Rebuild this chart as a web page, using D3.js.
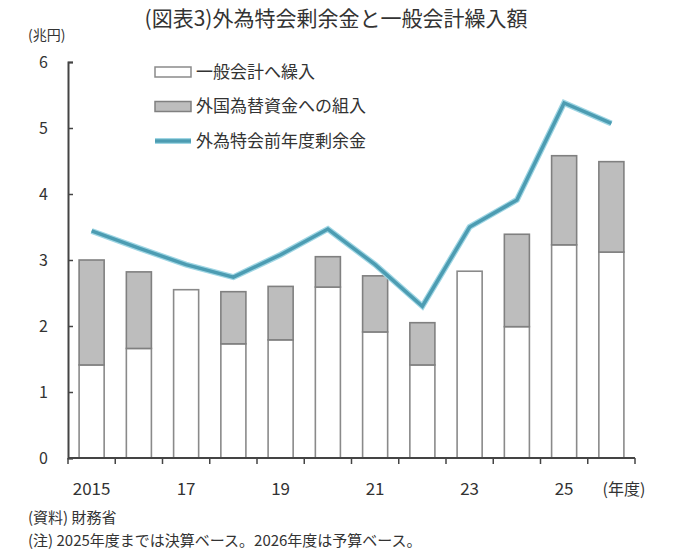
<!DOCTYPE html>
<html>
<head>
<meta charset="utf-8">
<script src="https://cdn.jsdelivr.net/npm/d3@7"></script>
<style>
  body { margin: 0; background: #fff; }
  text { font-family: "Noto Sans CJK JP", "Noto Sans", sans-serif; fill: #333; }
</style>
</head>
<body>
<div id="chart"></div>
<script>
// 年度
const years = [2015, 2016, 2017, 2018, 2019, 2020, 2021, 2022, 2023, 2024, 2025, 2026];
const yearLabels = ['2015', '', '17', '', '19', '', '21', '', '23', '', '25', ''];
// 一般会計へ繰入 (兆円)
const toGeneral = [1.41, 1.66, 2.55, 1.73, 1.79, 2.59, 1.91, 1.41, 2.83, 1.99, 3.23, 3.12];
// 外国為替資金への組入 (兆円)
const toReserve = [1.59, 1.16, 0.00, 0.79, 0.81, 0.46, 0.85, 0.64, 0.00, 1.40, 1.35, 1.37];
// 外為特会前年度剰余金 (兆円)
const surplus = [3.44, 3.18, 2.93, 2.74, 3.08, 3.47, 2.93, 2.30, 3.50, 3.91, 5.38, 5.07];
const yTicks = [0, 1, 2, 3, 4, 5, 6];

const seriesNames = ['一般会計へ繰入', '外国為替資金への組入', '外為特会前年度剰余金'];

function drawChart() {
    const W = 680, H = 560;
    const left = 68, right = 635, top = 62, bottom = 458;

    const svg = d3.select('#chart')
        .append('svg')
        .attr('width', W)
        .attr('height', H);

    const x = d3.scaleBand()
        .domain(years)
        .range([left, right])
        .paddingInner(0.47)
        .paddingOuter(0.235);

    const y = d3.scaleLinear()
        .domain([0, 6])
        .range([bottom, top]);

    // title
    svg.append('text')
        .attr('x', 336)
        .attr('y', 26)
        .attr('text-anchor', 'middle')
        .style('font-size', '21px')
        .text('(図表3)外為特会剰余金と一般会計繰入額');

    // unit
    svg.append('text')
        .attr('x', 28)
        .attr('y', 40)
        .style('font-size', '14px')
        .text('(兆円)');

    // stacked bars
    const bars = svg.append('g');
    years.forEach((yr, i) => {
        bars.append('rect')
            .attr('x', x(yr))
            .attr('y', y(toGeneral[i]))
            .attr('width', x.bandwidth())
            .attr('height', y(0) - y(toGeneral[i]))
            .attr('fill', '#fff')
            .attr('stroke', '#8a8a8a')
            .attr('stroke-width', 1.6);
        if (toReserve[i] > 0) {
            bars.append('rect')
                .attr('x', x(yr))
                .attr('y', y(toGeneral[i] + toReserve[i]))
                .attr('width', x.bandwidth())
                .attr('height', y(toGeneral[i]) - y(toGeneral[i] + toReserve[i]))
                .attr('fill', '#bdbdbd')
                .attr('stroke', '#808080')
                .attr('stroke-width', 1.6);
        }
    });

    // line
    const line = d3.line()
        .x((d, i) => x(years[i]) + x.bandwidth() / 2)
        .y(d => y(d));

    svg.append('path')
        .datum(surplus)
        .attr('d', line)
        .attr('fill', 'none')
        .attr('stroke', '#9fd6e4')
        .attr('stroke-width', 6)
        .attr('stroke-linejoin', 'miter');
    svg.append('path')
        .datum(surplus)
        .attr('d', line)
        .attr('fill', 'none')
        .attr('stroke', '#4c9cb2')
        .attr('stroke-width', 3.5)
        .attr('stroke-linejoin', 'miter');

    // y axis
    const yAxis = svg.append('g')
        .attr('transform', `translate(${left},0)`)
        .call(d3.axisLeft(y).tickValues(yTicks).tickFormat(d3.format('d')).tickSize(-5).tickPadding(20));
    yAxis.select('.domain').attr('stroke', '#444').attr('stroke-width', 2);
    yAxis.selectAll('.tick line').attr('stroke', '#444').attr('stroke-width', 1.5);
    yAxis.selectAll('.tick text')
        .style('font-size', '16px')
        .attr('fill', '#333')
        .style('font-family', '"Noto Sans CJK JP", sans-serif');

    // x axis: ticks at category boundaries
    const bounds = d3.range(years.length + 1).map(i => left + i * x.step());
    const xg = svg.append('g');
    xg.append('line')
        .attr('x1', left).attr('x2', right)
        .attr('y1', bottom).attr('y2', bottom)
        .attr('stroke', '#444').attr('stroke-width', 2);
    xg.selectAll('line.tk')
        .data(bounds)
        .enter()
        .append('line')
        .attr('class', 'tk')
        .attr('x1', d => d).attr('x2', d => d)
        .attr('y1', bottom).attr('y2', bottom + 6)
        .attr('stroke', '#444').attr('stroke-width', 1.5);
    xg.selectAll('text')
        .data(years)
        .enter()
        .append('text')
        .attr('x', d => x(d) + x.bandwidth() / 2)
        .attr('y', 495)
        .attr('text-anchor', 'middle')
        .style('font-size', '17px')
        .text((d, i) => yearLabels[i]);
    svg.append('text')
        .attr('x', 624)
        .attr('y', 495)
        .attr('text-anchor', 'middle')
        .style('font-size', '16px')
        .text('(年度)');

    // legend
    const legend = svg.append('g').attr('transform', 'translate(155,72)');
    const rowH = 34.5;
    legend.append('rect')
        .attr('x', 0).attr('y', -5).attr('width', 36).attr('height', 10)
        .attr('fill', '#fff').attr('stroke', '#8a8a8a').attr('stroke-width', 1.5);
    legend.append('rect')
        .attr('x', 0).attr('y', rowH - 5).attr('width', 36).attr('height', 10)
        .attr('fill', '#bdbdbd').attr('stroke', '#808080').attr('stroke-width', 1.5);
    legend.append('line')
        .attr('x1', 0).attr('x2', 36)
        .attr('y1', rowH * 2).attr('y2', rowH * 2)
        .attr('stroke', '#9fd6e4').attr('stroke-width', 6);
    legend.append('line')
        .attr('x1', 0).attr('x2', 36)
        .attr('y1', rowH * 2).attr('y2', rowH * 2)
        .attr('stroke', '#4c9cb2').attr('stroke-width', 3.5);
    seriesNames.forEach((name, i) => {
        legend.append('text')
            .attr('x', 41)
            .attr('y', i * rowH)
            .attr('dy', '0.35em')
            .style('font-size', '17px')
            .text(name);
    });

    // notes
    svg.append('text')
        .attr('x', 28)
        .attr('y', 523)
        .style('font-size', '15px')
        .text('(資料) 財務省');
    svg.append('text')
        .attr('x', 28)
        .attr('y', 546)
        .style('font-size', '15px')
        .text('(注) 2025年度までは決算ベース。2026年度は予算ベース。');
}

drawChart();
</script>
</body>
</html>
